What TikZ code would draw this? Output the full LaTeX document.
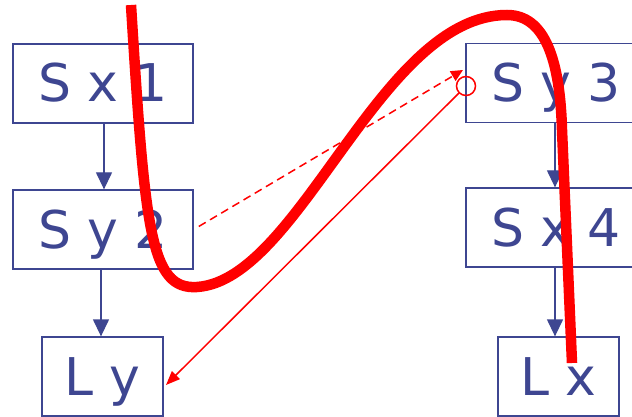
\documentclass[tikz,border=0pt]{standalone}
\usepackage{fontspec}
\setmainfont{DejaVu Sans}
\usetikzlibrary{arrows.meta}
\definecolor{navy}{RGB}{62,70,145}
\definecolor{hot}{RGB}{255,0,0}
\tikzset{
  box/.style={draw=navy, line width=1.3pt, text=navy, font=\fontsize{52}{52}\selectfont,
    minimum height=79pt, text height=37pt, text depth=0pt, inner sep=0pt},
  openbox/.style={box, minimum width=300pt},
  flow/.style={draw=navy, line width=1.3pt, -{Triangle[length=17pt,width=16pt]}},
  redthin/.style={draw=hot, line width=1.5pt},
}
\begin{document}
\begin{tikzpicture}[x=1pt,y=-1pt]
\useasboundingbox (0,0) rectangle (632,417);
\fill[white] (0,0) rectangle (632,417);
\node[box, minimum width=180pt] (sx1) at (103,83.5) {S x 1};
\node[box, minimum width=180pt] (sy2) at (103,229.5) {S y 2};
\node[box, minimum width=121pt] (ly) at (102.5,376.5) {L y};
\node[openbox] (sy3) at (616,83) {S y 3\hspace*{120pt}};
\node[openbox] (sx4) at (616,227.5) {S x 4\hspace*{120pt}};
\node[box, minimum width=121pt] (lx) at (558.5,376.5) {L x};
\draw[flow] (sx1.south -| 104,0) -- (sy2.north -| 104,0);
\draw[flow] (sy2.south -| 101,0) -- (ly.north -| 101,0);
\draw[flow] (sy3.south -| 555,0) -- (sx4.north -| 555,0);
\draw[flow] (sx4.south -| 555,0) -- (lx.north -| 555,0);
\node[circle, draw=hot, line width=1.5pt, minimum size=19pt, inner sep=0pt] (c) at (466,86) {};
\coordinate (dtip) at (463,70);
\coordinate (ltip) at (166,385);
\draw[redthin, dash pattern=on 8pt off 5pt, -{Triangle[length=12pt,width=11pt]}, shorten <=6pt] (sy2.east) -- (dtip);
\draw[redthin, -{Triangle[length=14pt,width=11pt]}] (c) -- (ltip);
\draw[hot, line width=10.5pt] (131,5) .. controls (145,230) and (150,290) .. (197,287)
  .. controls (300,280) and (380,15) .. (507,15)
  .. controls (545,15) and (560,60) .. (562,130) -- (572,363);
\end{tikzpicture}
\end{document}
